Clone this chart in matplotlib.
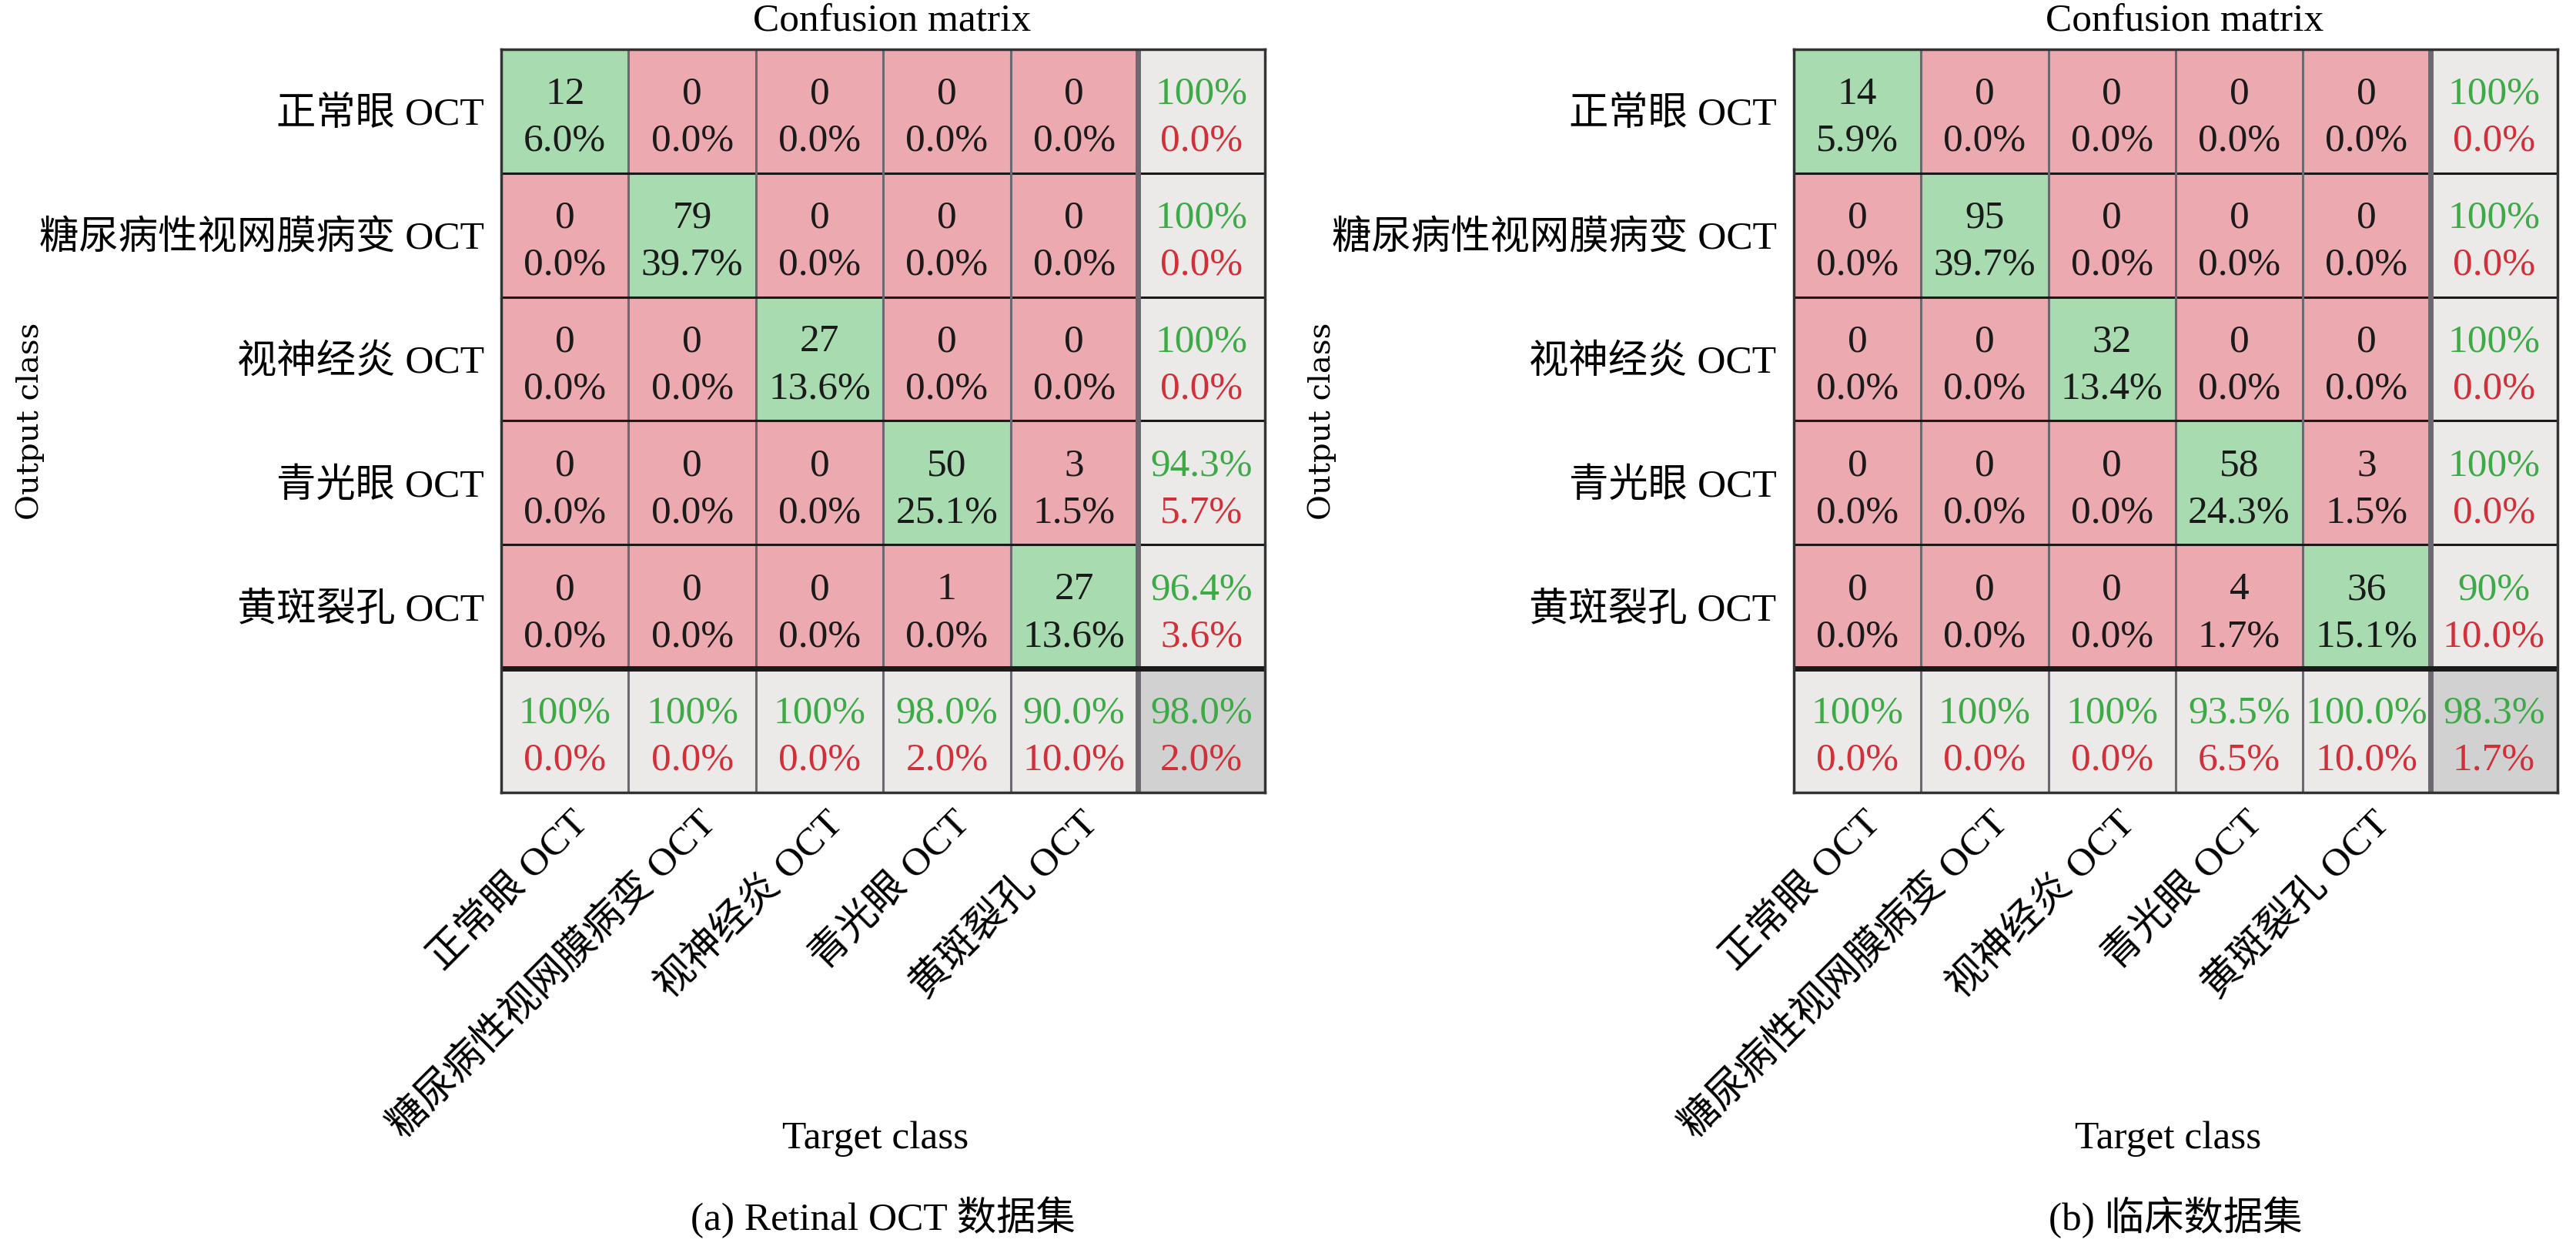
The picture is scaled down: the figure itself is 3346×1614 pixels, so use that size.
import matplotlib.pyplot as plt
import numpy as np
from matplotlib.colors import ListedColormap

plt.rcParams['font.family'] = ['Liberation Serif', 'Noto Sans CJK SC']

classes = ['正常眼 OCT', '糖尿病性视网膜病变 OCT', '视神经炎 OCT', '青光眼 OCT', '黄斑裂孔 OCT']

# panel (a) Retinal OCT
counts_a = [[12, 0, 0, 0, 0],
            [0, 79, 0, 0, 0],
            [0, 0, 27, 0, 0],
            [0, 0, 0, 50, 3],
            [0, 0, 0, 1, 27]]
pct_a = [['6.0%', '0.0%', '0.0%', '0.0%', '0.0%'],
         ['0.0%', '39.7%', '0.0%', '0.0%', '0.0%'],
         ['0.0%', '0.0%', '13.6%', '0.0%', '0.0%'],
         ['0.0%', '0.0%', '0.0%', '25.1%', '1.5%'],
         ['0.0%', '0.0%', '0.0%', '0.0%', '13.6%']]
row_ok_a = ['100%', '100%', '100%', '94.3%', '96.4%']
row_err_a = ['0.0%', '0.0%', '0.0%', '5.7%', '3.6%']
col_ok_a = ['100%', '100%', '100%', '98.0%', '90.0%', '98.0%']
col_err_a = ['0.0%', '0.0%', '0.0%', '2.0%', '10.0%', '2.0%']

# panel (b) clinical
counts_b = [[14, 0, 0, 0, 0],
            [0, 95, 0, 0, 0],
            [0, 0, 32, 0, 0],
            [0, 0, 0, 58, 3],
            [0, 0, 0, 4, 36]]
pct_b = [['5.9%', '0.0%', '0.0%', '0.0%', '0.0%'],
         ['0.0%', '39.7%', '0.0%', '0.0%', '0.0%'],
         ['0.0%', '0.0%', '13.4%', '0.0%', '0.0%'],
         ['0.0%', '0.0%', '0.0%', '24.3%', '1.5%'],
         ['0.0%', '0.0%', '0.0%', '1.7%', '15.1%']]
row_ok_b = ['100%', '100%', '100%', '100%', '90%']
row_err_b = ['0.0%', '0.0%', '0.0%', '0.0%', '10.0%']
col_ok_b = ['100%', '100%', '100%', '93.5%', '100.0%', '98.3%']
col_err_b = ['0.0%', '0.0%', '0.0%', '6.5%', '10.0%', '1.7%']

captions = ['(a) Retinal OCT 数据集', '(b) 临床数据集']

FS = 37
GREEN_T = '#3daa47'
RED_T = '#d22f38'
cmap = ListedColormap(['#eda9b0', '#a9dbb1', '#eceae9', '#d1d1d1'])
Y1, Y2 = 0.44, 0.82   # baselines of the two text lines inside a cell


def draw(ax, counts, pct, row_ok, row_err, col_ok, col_err, caption):
    n = len(counts)
    codes = np.zeros((n + 1, n + 1))
    codes[np.arange(n), np.arange(n)] = 1
    codes[n, :] = 2
    codes[:, n] = 2
    codes[n, n] = 3
    ax.pcolormesh(np.arange(n + 2), np.arange(n + 2), codes, cmap=cmap, vmin=0, vmax=3)
    ax.set_xlim(0, n + 1)
    ax.set_ylim(n + 1, 0)

    kw = dict(ha='center', va='baseline', fontsize=FS)
    for i in range(n):
        for j in range(n):
            ax.text(j + 0.5, i + Y1, str(counts[i][j]), color='#1a1a1a', **kw)
            ax.text(j + 0.5, i + Y2, pct[i][j], color='#1a1a1a', **kw)
        ax.text(n + 0.5, i + Y1, row_ok[i], color=GREEN_T, **kw)
        ax.text(n + 0.5, i + Y2, row_err[i], color=RED_T, **kw)
    for j in range(n + 1):
        ax.text(j + 0.5, n + Y1, col_ok[j], color=GREEN_T, **kw)
        ax.text(j + 0.5, n + Y2, col_err[j], color=RED_T, **kw)

    # grid lines
    for k in range(1, n + 1):
        ax.axvline(k, color='#6b6870', lw=2.2 if k < n else 5, zorder=3)
        ax.axhline(k, color='#1a1a1a', lw=2.2 if k < n else 5, zorder=3)
    for s in ax.spines.values():
        s.set_linewidth(2.5)
        s.set_color('#333333')
        s.set_zorder(4)

    ax.set_yticks(np.arange(n) + 0.5)
    ax.set_yticklabels(classes, fontsize=FS)
    ax.set_xticks([])
    ax.tick_params(axis='y', length=0, pad=16)
    for j, lab in enumerate(classes):
        ax.text(j + 0.54, n + 1.1, lab, rotation=45, ha='right', va='top',
                rotation_mode='anchor', fontsize=FS)

    ax.text(0.512, 1.037, 'Confusion matrix', transform=ax.transAxes, ha='center', va='center', fontsize=FS)
    ax.text(-0.617, 0.5, 'Output class', transform=ax.transAxes, rotation=90, ha='center', va='center',
            fontsize=29, family='DejaVu Serif')
    ax.text(0.49, -0.466, 'Target class', transform=ax.transAxes, ha='center', va='center', fontsize=FS)
    ax.text(0.5, -0.572, caption, transform=ax.transAxes, ha='center', va='center', fontsize=FS)


fig = plt.figure(figsize=(33.46, 16.14), dpi=100)
ax1 = fig.add_axes([0.1946, 0.3625, 0.2965, 0.5979])
ax2 = fig.add_axes([0.6963, 0.3625, 0.2965, 0.5979])
draw(ax1, counts_a, pct_a, row_ok_a, row_err_a, col_ok_a, col_err_a, captions[0])
draw(ax2, counts_b, pct_b, row_ok_b, row_err_b, col_ok_b, col_err_b, captions[1])

fig.savefig('out.png', dpi=100)
